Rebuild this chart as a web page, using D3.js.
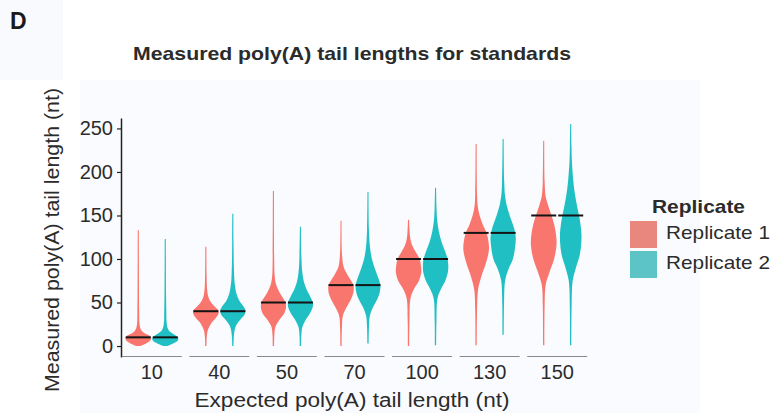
<!DOCTYPE html>
<html>
<head>
<meta charset="utf-8">
<script src="https://cdn.jsdelivr.net/npm/d3@7"></script>
<style>
  body { margin: 0; background: #ffffff; }
  svg { display: block; font-family: "Liberation Sans", Arial, sans-serif; }
</style>
</head>
<body>
<svg id="chart"></svg>
<script>
const categories = ["10", "40", "50", "70", "100", "130", "150"];
const expected = [10, 40, 50, 70, 100, 130, 150];
const replicates = ["Replicate 1", "Replicate 2"];
const yTicks = [0, 50, 100, 150, 200, 250];

// violin outlines: [measured length, relative half-width]
const rep1Profiles = [
    [[0,0.15],[3,0.6],[6,0.9],[9,1.0],[12,0.85],[15,0.45],[19,0.2],[25,0.1],[40,0.07],[80,0.05],[133,0.04]],
    [[0,0.05],[10,0.07],[18,0.15],[26,0.4],[32,0.75],[37,0.97],[41,0.95],[45,0.7],[50,0.4],[56,0.2],[65,0.1],[80,0.06],[114,0.04]],
    [[0,0.05],[12,0.07],[22,0.15],[30,0.45],[38,0.85],[45,0.97],[50,0.92],[56,0.7],[62,0.45],[70,0.22],[80,0.1],[100,0.06],[178,0.04]],
    [[0,0.05],[20,0.07],[35,0.15],[45,0.45],[55,0.8],[63,0.97],[70,0.95],[77,0.7],[83,0.45],[91,0.2],[105,0.08],[144,0.04]],
    [[0,0.05],[30,0.07],[55,0.15],[65,0.4],[75,0.8],[85,0.98],[92,0.95],[100,0.85],[108,0.55],[115,0.3],[122,0.15],[132,0.08],[145,0.04]],
    [[1,0.05],[40,0.07],[65,0.15],[80,0.4],[95,0.75],[110,0.98],[120,0.95],[130,0.8],[140,0.5],[150,0.27],[160,0.13],[175,0.07],[232,0.04]],
    [[1,0.05],[45,0.07],[70,0.15],[85,0.45],[100,0.8],[115,0.98],[125,0.97],[140,0.8],[152,0.55],[162,0.33],[172,0.15],[190,0.07],[236,0.04]]
];
const rep2Profiles = [
    [[0,0.15],[3,0.6],[6,0.95],[9,1.0],[12,0.8],[16,0.4],[20,0.2],[28,0.1],[40,0.08],[60,0.06],[123,0.04]],
    [[0,0.05],[12,0.08],[22,0.2],[30,0.55],[36,0.9],[41,0.97],[46,0.8],[52,0.5],[60,0.28],[72,0.14],[90,0.08],[120,0.05],[152,0.04]],
    [[0,0.05],[12,0.07],[22,0.15],[30,0.4],[38,0.75],[45,0.95],[50,0.95],[57,0.75],[64,0.5],[72,0.3],[84,0.15],[100,0.08],[137,0.04]],
    [[3,0.05],[20,0.07],[35,0.15],[45,0.4],[55,0.75],[63,0.92],[70,0.95],[78,0.8],[88,0.55],[100,0.3],[114,0.15],[135,0.07],[177,0.04]],
    [[1,0.05],[30,0.07],[55,0.15],[65,0.4],[75,0.75],[85,0.95],[92,0.98],[100,0.92],[110,0.7],[120,0.45],[132,0.25],[145,0.12],[160,0.07],[182,0.04]],
    [[13,0.05],[50,0.07],[75,0.15],[88,0.4],[100,0.75],[115,0.93],[125,0.97],[135,0.85],[148,0.55],[160,0.3],[172,0.15],[190,0.08],[238,0.04]],
    [[1,0.05],[45,0.07],[75,0.15],[90,0.4],[105,0.7],[120,0.82],[130,0.82],[145,0.7],[160,0.5],[175,0.32],[190,0.2],[210,0.1],[230,0.06],[255,0.04]]
];

const colors = ["#F8766D", "#1FBFC4"];
const legendColors = ["#E9867D", "#5CC4C6"];
const textColor = "#2b2b2b";

const W = 777, H = 413;
const svg = d3.select("#chart").attr("width", W).attr("height", H);

// faint panels behind the figure
svg.append("rect").attr("x", 0).attr("y", 0).attr("width", 63).attr("height", 80).attr("fill", "#f9fafd");
svg.append("rect").attr("x", 80).attr("y", 80).attr("width", 620).attr("height", 333).attr("fill", "#fafbfe");

const x = d3.scaleBand().domain(categories).range([118, 591]).padding(0);
const y = d3.scaleLinear().domain([-12.6, 262]).range([357, 118]);
const dodge = 13.5, maxHalf = 13;

// panel letter and title
svg.append("text").attr("x", 10).attr("y", 29)
    .attr("font-size", 23).attr("font-weight", "bold").attr("fill", "#1a1a1a").text("D");
svg.append("text").attr("x", 352).attr("y", 60).attr("text-anchor", "middle")
    .attr("font-size", 19).attr("font-weight", "bold").attr("fill", textColor)
    .attr("textLength", 438).attr("lengthAdjust", "spacingAndGlyphs")
    .text("Measured poly(A) tail lengths for standards");

// violins
const profiles = [rep1Profiles, rep2Profiles];
categories.forEach((c, i) => {
    const cx = x(c) + x.bandwidth() / 2;
    profiles.forEach((p, r) => {
        const vx = cx + (r === 0 ? -dodge : dodge);
        const area = d3.area()
            .curve(d3.curveCatmullRom)
            .y(d => y(d[0]))
            .x0(d => vx - d[1] * maxHalf)
            .x1(d => vx + d[1] * maxHalf);
        svg.append("path")
            .datum(p[i])
            .attr("d", area)
            .attr("fill", colors[r]);
        svg.append("line")
            .attr("x1", vx - 12.5).attr("x2", vx + 12.5)
            .attr("y1", y(expected[i])).attr("y2", y(expected[i]))
            .attr("stroke", "#141414").attr("stroke-width", 2);
    });
});

// y axis
const yAxis = svg.append("g")
    .attr("transform", "translate(121,0)")
    .call(d3.axisLeft(y).tickValues(yTicks).tickSize(4).tickSizeOuter(0).tickPadding(4));
yAxis.select(".domain").attr("stroke", "#222").attr("stroke-width", 1.5);
yAxis.selectAll(".tick line").attr("stroke", "#222").attr("stroke-width", 1.2);
yAxis.selectAll(".tick text").attr("font-size", 20).attr("fill", textColor)
    .attr("font-family", "Liberation Sans, Arial, sans-serif");

// x axis: a short baseline under each group
svg.selectAll(".xseg").data(categories).enter().append("line")
    .attr("class", "xseg")
    .attr("x1", d => x(d) + x.bandwidth() / 2 - 30)
    .attr("x2", d => x(d) + x.bandwidth() / 2 + 30)
    .attr("y1", 356.5).attr("y2", 356.5)
    .attr("stroke", "#8a8a8a").attr("stroke-width", 1);

const xAxis = svg.append("g")
    .attr("transform", "translate(0,357)")
    .call(d3.axisBottom(x).tickSize(0).tickPadding(8));
xAxis.select(".domain").remove();
xAxis.selectAll(".tick text").attr("font-size", 20).attr("fill", textColor)
    .attr("font-family", "Liberation Sans, Arial, sans-serif");

// axis titles
svg.append("text").attr("x", 352).attr("y", 407).attr("text-anchor", "middle")
    .attr("font-size", 20).attr("fill", textColor)
    .attr("textLength", 315).attr("lengthAdjust", "spacingAndGlyphs")
    .text("Expected poly(A) tail length (nt)");
svg.append("text").attr("transform", "translate(59,240) rotate(-90)")
    .attr("text-anchor", "middle").attr("font-size", 20).attr("fill", textColor)
    .attr("textLength", 304).attr("lengthAdjust", "spacingAndGlyphs")
    .text("Measured poly(A) tail length (nt)");

// legend
const legend = svg.append("g").attr("transform", "translate(630,0)");
legend.append("text").attr("x", 22).attr("y", 213)
    .attr("font-size", 19).attr("font-weight", "bold").attr("fill", textColor)
    .attr("textLength", 93).attr("lengthAdjust", "spacingAndGlyphs")
    .text("Replicate");
replicates.forEach((rep, r) => {
    legend.append("rect").attr("x", 0).attr("y", 221 + r * 30)
        .attr("width", 27).attr("height", 27).attr("fill", legendColors[r]);
    legend.append("text").attr("x", 36).attr("y", 238.5 + r * 30)
        .attr("font-size", 19).attr("fill", textColor)
        .attr("textLength", 104).attr("lengthAdjust", "spacingAndGlyphs")
        .text(rep);
});
</script>
</body>
</html>
